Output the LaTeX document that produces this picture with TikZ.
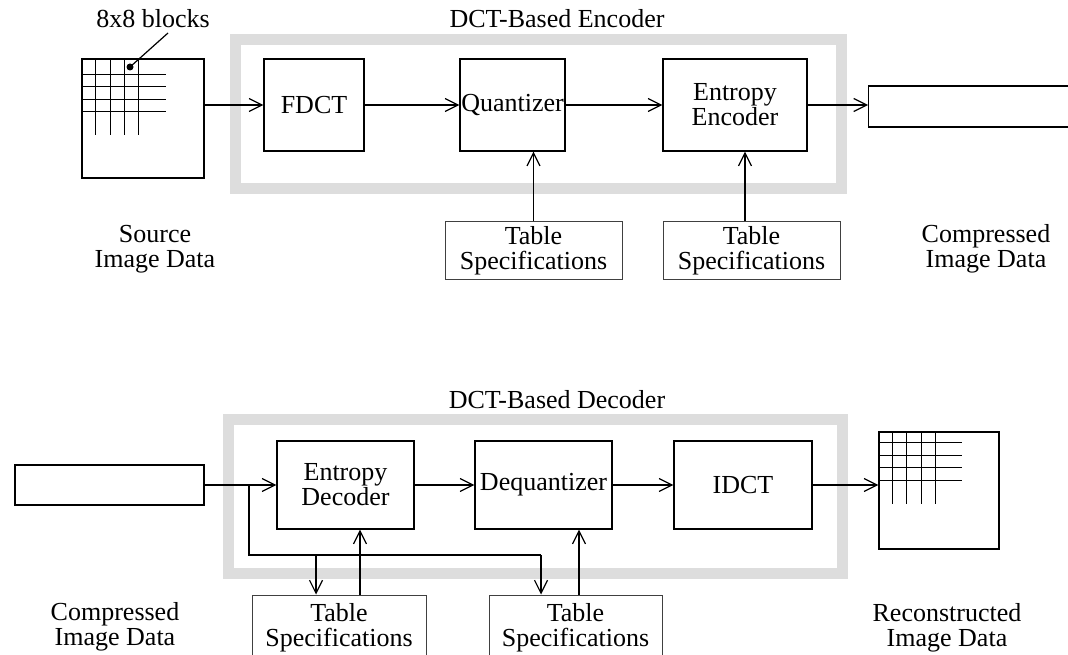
\documentclass[tikz,border=0pt]{standalone}
\usepackage{fontspec}
\setmainfont{Liberation Serif}
\usetikzlibrary{arrows.meta}
\definecolor{framegray}{RGB}{221,221,221}
\tikzset{
  blk/.style={draw, inner sep=0pt, align=center},
  tabspec/.style={draw=black!75, line width=1pt, inner sep=0pt, align=center},
  lbl/.style={align=center, inner sep=0pt},
  frame/.style={draw=framegray, line width=11pt}
}
\begin{document}
\begin{tikzpicture}[x=1pt, y=-1pt, >={Straight Barb[length=13pt,width=13pt]}, line width=1.2pt, font=\fontsize{26pt}{25pt}\selectfont]
\clip (0,0) rectangle (1068,655);
% ---------- encoder ----------
\draw[frame] (235,40) rectangle (841,189);
\node[lbl] (enctitle) at (557,19) {DCT-Based Encoder};
\node[blk, minimum width=122pt, minimum height=119pt] (src) at (143,118.5) {};
\foreach \i in {14,29,43,57} \draw ([xshift=\i pt]src.north west) -- ++(0,77);
\foreach \j in {16,28,41,53} \draw ([yshift=-\j pt]src.north west) -- ++(85,0);
\node[lbl] (blocks) at (153,19) {8x8 blocks};
\coordinate (dot) at (130,67);
\fill (dot) circle (3.5pt);
\draw (dot) -- (168,33);
\node[blk, minimum width=100pt, minimum height=92pt] (fdct) at (314,105) {FDCT};
\node[blk, minimum width=105pt, minimum height=92pt] (quant) at (512.5,105) {Quantizer};
\node[blk, minimum width=144pt, minimum height=92pt] (enc) at (735,105) {Entropy\\Encoder};
\node[blk, minimum width=212pt, minimum height=41pt, anchor=west] (out) at (868,106.5) {};
\node[tabspec, minimum width=177pt, minimum height=57pt] (tab1) at (533.5,250.5) {Table\\Specifications};
\node[tabspec, minimum width=177pt, minimum height=57pt] (tab2) at (751.5,250.5) {Table\\Specifications};
\draw[->] (src.east |- fdct.west) -- (fdct.west);
\draw[->] (fdct) -- (quant);
\draw[->] (quant) -- (enc);
\draw[->] (enc.east) -- (enc.east -| out.west);
\draw[->] (tab1.north) -- (tab1.north |- quant.south);
\draw[->] ([xshift=-6.5pt]tab2.north) -- ([xshift=-6.5pt]tab2.north |- enc.south);
\node[lbl] (srclbl) at (155,249) {Source\\Image Data};
\node[lbl] (cmplbl) at (986,249) {Compressed\\Image Data};
% ---------- decoder ----------
\draw[frame] (228,419) rectangle (842,573);
\node[lbl] (dectitle) at (557,400) {DCT-Based Decoder};
\node[blk, minimum width=189pt, minimum height=40pt] (in) at (109.5,485) {};
\node[blk, minimum width=137pt, minimum height=88pt] (dec) at (345.5,485) {Entropy\\Decoder};
\node[blk, minimum width=137pt, minimum height=88pt] (deq) at (543.5,485) {Dequantizer};
\node[blk, minimum width=138pt, minimum height=88pt] (idct) at (743,485) {IDCT};
\node[blk, minimum width=120pt, minimum height=117pt] (rec) at (939,490.5) {};
\foreach \i in {14,28,43,57} \draw ([xshift=\i pt]rec.north west) -- ++(0,73);
\foreach \j in {11,24,36,49} \draw ([yshift=-\j pt]rec.north west) -- ++(84,0);
\node[tabspec, minimum width=174pt, minimum height=66pt] (tab3) at (339,628) {Table\\Specifications};
\node[tabspec, minimum width=173pt, minimum height=66pt] (tab4) at (575.5,628) {Table\\Specifications};
\draw[->] (in.east) -- (in.east -| dec.west);
\draw[->] (dec) -- (deq);
\draw[->] (deq) -- (idct);
\draw[->] (idct.east) -- (idct.east -| rec.west);
% tables fed from the input line
\coordinate (split) at (249,485);
\coordinate (tapA) at (316,555);
\coordinate (tapB) at (541,555);
\draw (split) |- (tapB);
\draw[->] (tapA) -- (tapA |- tab3.north);
\draw[->] (tapB) -- (tapB |- tab4.north);
\draw[->] ([xshift=21pt]tab3.north) -- ([xshift=21pt]tab3.north |- dec.south);
\draw[->] ([xshift=3.5pt]tab4.north) -- ([xshift=3.5pt]tab4.north |- deq.south);
\node[lbl] (cmplbl2) at (115,627) {Compressed\\Image Data};
\node[lbl] (reclbl) at (947,628) {Reconstructed\\Image Data};
\end{tikzpicture}
\end{document}
